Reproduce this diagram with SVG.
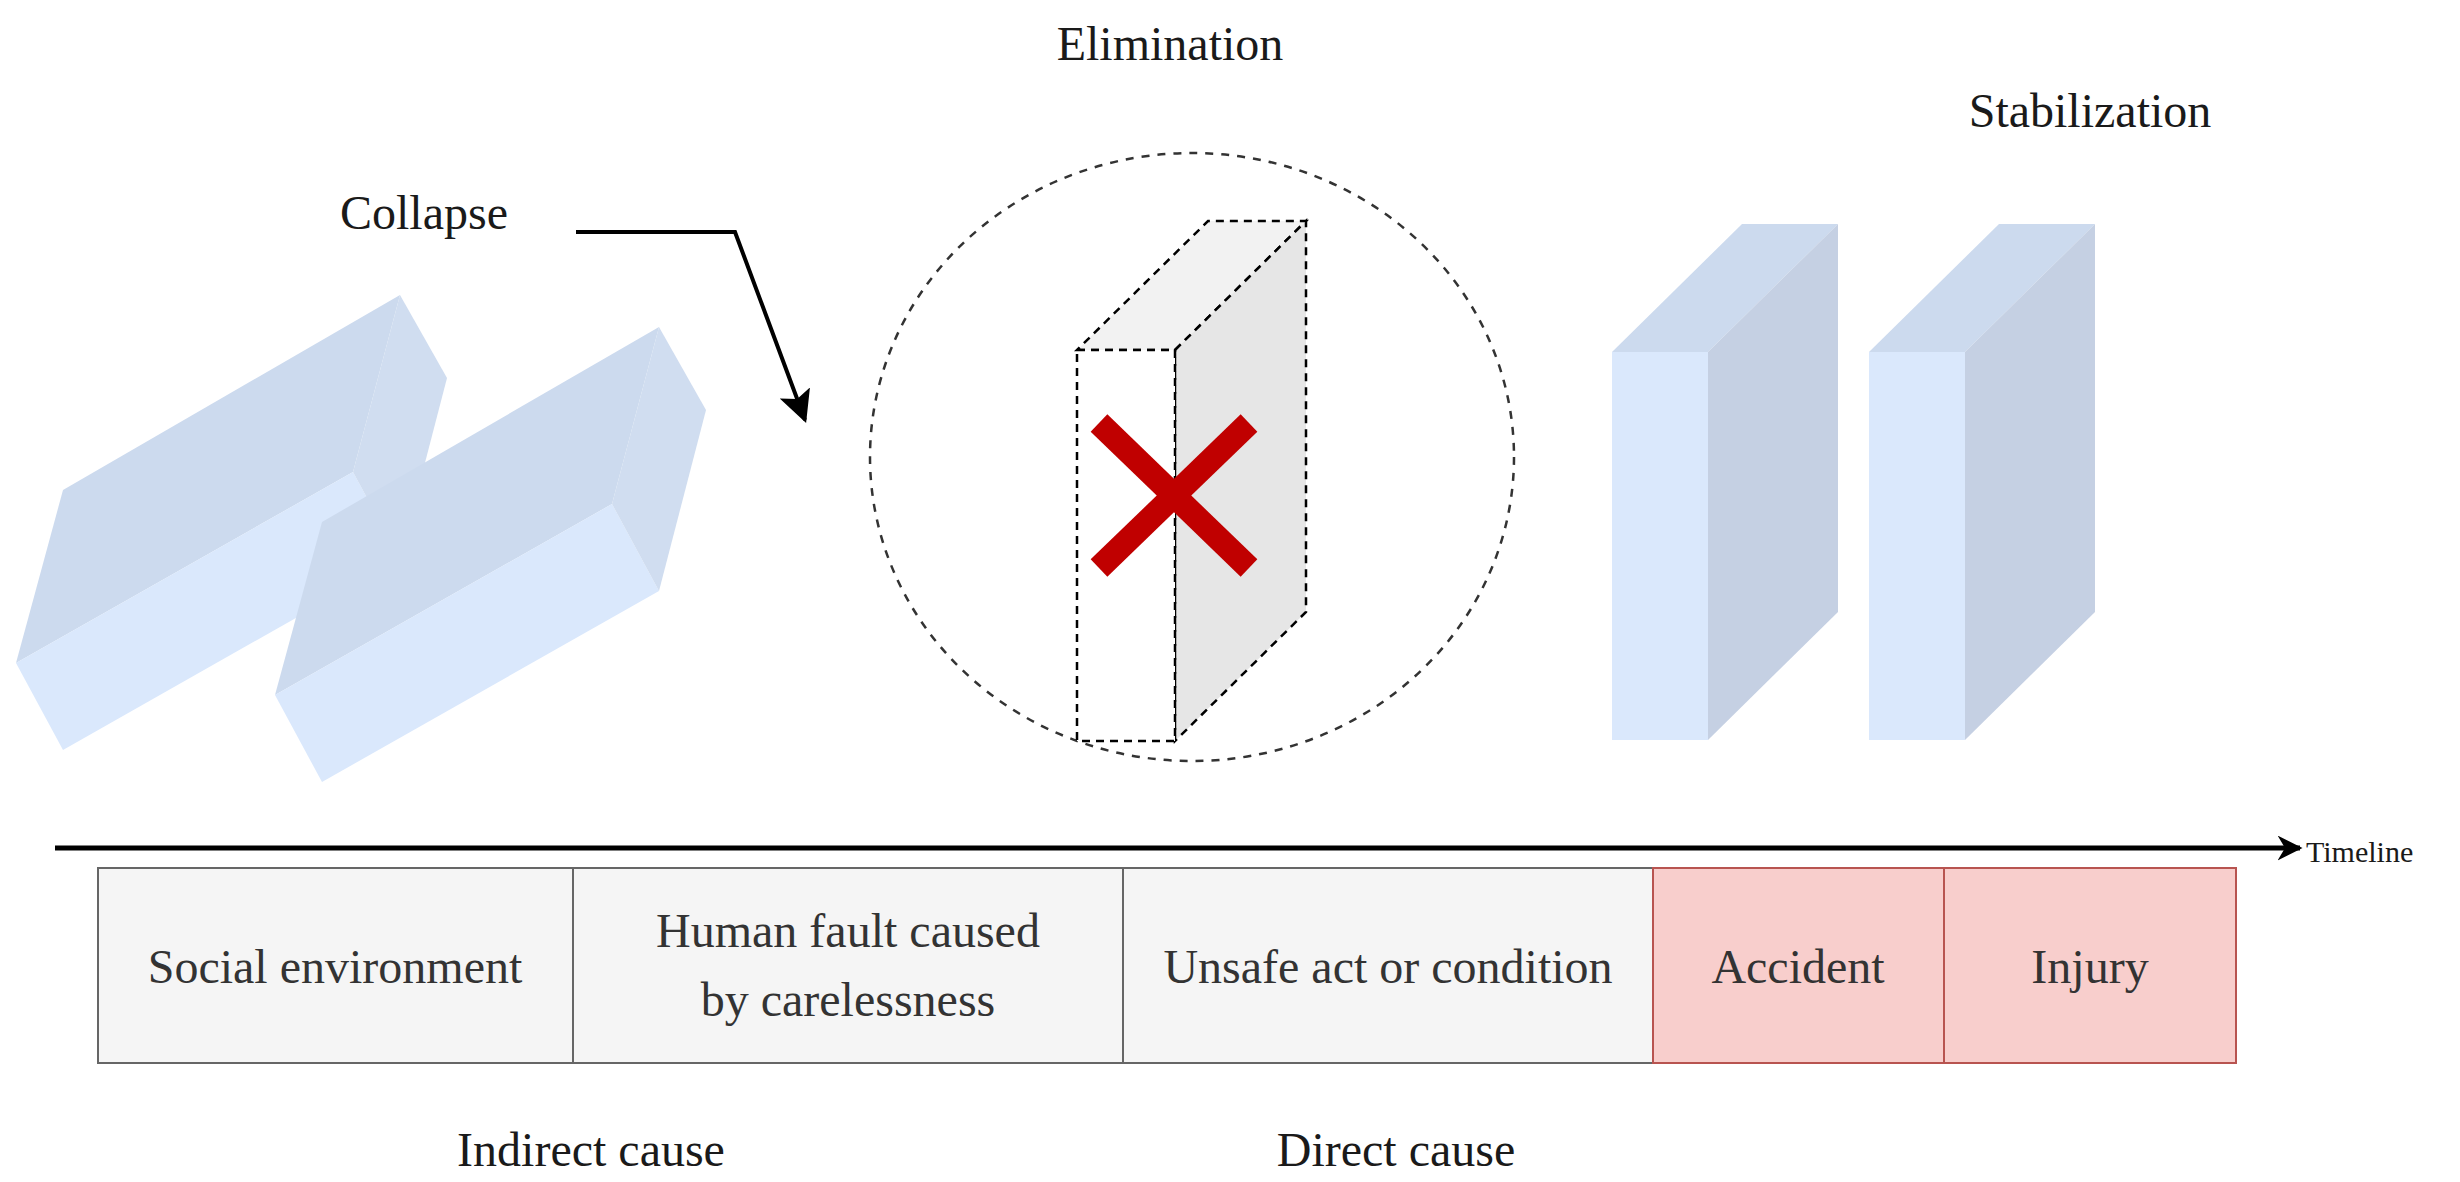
<svg xmlns="http://www.w3.org/2000/svg" width="2460" height="1182" viewBox="0 0 2460 1182">
<style>
text{font-family:"Liberation Serif","Times New Roman",serif;font-size:48px;fill:#1a1a1a}
.bt{fill:#333;text-anchor:middle}
.c{text-anchor:middle}
.front{fill:#dae8fc}
.side{fill:#c5d0e3}
.top{fill:#ccdaee}
.gb{fill:#f5f5f5;stroke:#666;stroke-width:2}
.pb{fill:#f8cecc;stroke:#b85450;stroke-width:2}
.dash{stroke:#000;stroke-width:2.5;stroke-dasharray:8 6}
</style>
<defs>
<marker id="ah" viewBox="0 0 10 10" refX="9" refY="5" markerWidth="5" markerHeight="5" orient="auto" markerUnits="strokeWidth">
<path d="M0,0 L10,5 L0,10 L3,5 Z" fill="#000"/>
</marker>
<marker id="ah2" viewBox="0 0 10 10" refX="9" refY="5" markerWidth="8" markerHeight="8" orient="auto" markerUnits="strokeWidth">
<path d="M0,0 L10,5 L0,10 L2,5 Z" fill="#000"/>
</marker>
</defs>

<g id="collapsed-blocks">
<g id="block1">
<polygon class="top" points="63,490 400,295 353,472 16,663"/>
<polygon class="front" points="16,663 353,472 400,559 63,750"/>
<polygon class="top" points="353,472 400,295 447,378 400,559" style="fill:#d0ddf0"/>
</g>
<g id="block2" transform="translate(259,32)">
<polygon class="top" points="63,490 400,295 353,472 16,663"/>
<polygon class="front" points="16,663 353,472 400,559 63,750"/>
<polygon class="top" points="353,472 400,295 447,378 400,559" style="fill:#d0ddf0"/>
</g>
</g>

<g id="elimination">
<ellipse cx="1192" cy="457" rx="322" ry="304" fill="none" stroke="#333" stroke-width="2.5" stroke-dasharray="8 8"/>
<polygon class="dash" fill="#f2f2f2" points="1077,350 1175,350 1306,221 1208,221"/>
<polygon class="dash" fill="#e6e6e6" points="1175,350 1306,221 1306,612 1175,741"/>
<rect class="dash" fill="#ffffff" x="1077" y="350" width="98" height="391"/>
<g stroke="#c00000" stroke-width="24">
<line x1="1099" y1="423" x2="1249" y2="568"/>
<line x1="1099" y1="568" x2="1249" y2="423"/>
</g>
</g>

<g id="stable-walls">
<g id="wall1">
<polygon class="top" points="1612,352 1708,352 1838,224 1742,224"/>
<polygon class="side" points="1708,352 1838,224 1838,612 1708,740"/>
<rect class="front" x="1612" y="352" width="96" height="388"/>
</g>
<g id="wall2" transform="translate(257,0)">
<polygon class="top" points="1612,352 1708,352 1838,224 1742,224"/>
<polygon class="side" points="1708,352 1838,224 1838,612 1708,740"/>
<rect class="front" x="1612" y="352" width="96" height="388"/>
</g>
</g>

<g id="connectors">
<polyline points="576,232 735,232 805,420" fill="none" stroke="#000" stroke-width="4" marker-end="url(#ah2)"/>
<line x1="55" y1="848" x2="2300" y2="848" stroke="#000" stroke-width="5" marker-end="url(#ah)"/>
</g>

<g id="labels">
<text class="c" x="1170" y="60">Elimination</text>
<text class="c" x="2090" y="127">Stabilization</text>
<text x="340" y="229">Collapse</text>
<text x="2306" y="862" style="font-size:30px">Timeline</text>
<text class="c" x="591" y="1166">Indirect cause</text>
<text class="c" x="1396" y="1166">Direct cause</text>
</g>

<g id="box-social"><rect class="gb" x="98" y="868" width="475" height="195"/><text class="bt" x="335" y="983">Social environment</text></g>
<g id="box-human"><rect class="gb" x="573" y="868" width="550" height="195"/><text class="bt" x="848" y="947">Human fault caused</text><text class="bt" x="848" y="1016">by carelessness</text></g>
<g id="box-unsafe"><rect class="gb" x="1123" y="868" width="530" height="195"/><text class="bt" x="1388" y="983">Unsafe act or condition</text></g>
<g id="box-accident"><rect class="pb" x="1653" y="868" width="291" height="195"/><text class="bt" x="1798" y="983">Accident</text></g>
<g id="box-injury"><rect class="pb" x="1944" y="868" width="292" height="195"/><text class="bt" x="2090" y="983">Injury</text></g>
</svg>
